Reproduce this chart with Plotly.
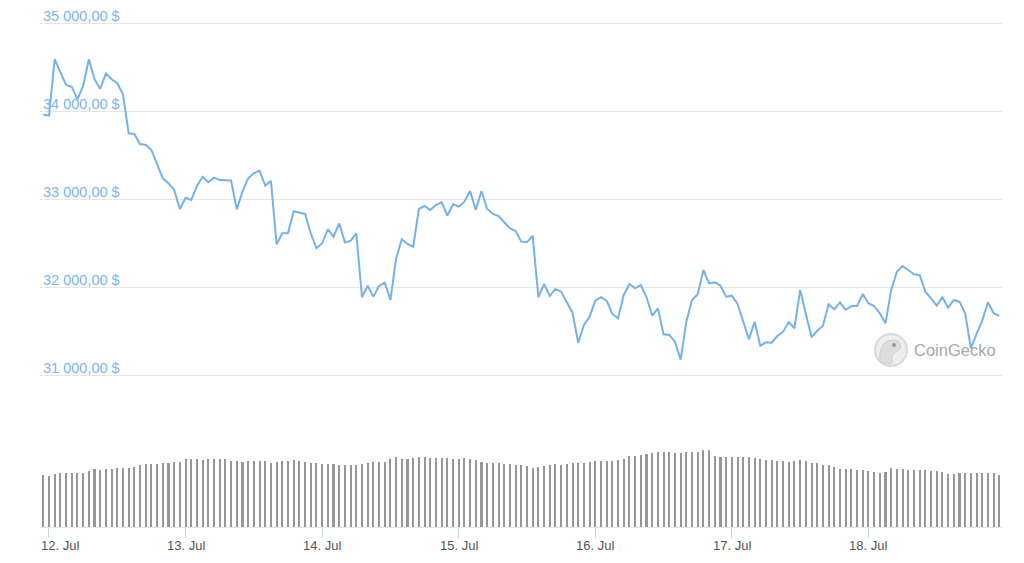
import pandas as pd
import plotly.graph_objects as go

# ---------------- data ----------------
start_time = "2021-07-11 23:00"
n_points = 169

price_usd = [
    33960, 33950, 34589, 34448, 34297, 34278, 34135, 34286, 34589, 34362,
    34252, 34430, 34362, 34317, 34192, 33750, 33742, 33629, 33618, 33561,
    33410, 33240, 33184, 33108, 32889, 33020, 32994, 33153, 33258, 33195,
    33247, 33220, 33217, 33213, 32889, 33088, 33240, 33297, 33327, 33157,
    33210, 32492, 32617, 32617, 32867, 32848, 32836, 32617, 32447, 32504,
    32662, 32578, 32730, 32515, 32530, 32617, 31892, 32023, 31899, 32020,
    32057, 31861, 32334, 32549, 32496, 32465, 32892, 32926, 32881, 32938,
    32968, 32816, 32949, 32919, 32975, 33096, 32881, 33096, 32892, 32836,
    32813, 32742, 32674, 32643, 32522, 32515, 32590, 31892, 32042, 31907,
    31986, 31955, 31842, 31717, 31377, 31578, 31672, 31853, 31892, 31853,
    31703, 31654, 31918, 32042, 31994, 32031, 31892, 31683, 31767, 31473,
    31465, 31389, 31185, 31615, 31861, 31926, 32201, 32050, 32062, 32023,
    31899, 31910, 31816, 31615, 31416, 31615, 31343, 31382, 31377, 31453,
    31502, 31609, 31541, 31975, 31691, 31439, 31513, 31570, 31812, 31756,
    31835, 31748, 31793, 31793, 31929, 31824, 31793, 31710, 31597, 31975,
    32182, 32246, 32201, 32152, 32144, 31955, 31880, 31797, 31892, 31774,
    31861, 31842, 31710, 31314, 31476, 31627, 31835, 31710, 31683,
]

volume_bn = [
    20.8, 20.4, 21.2, 21.7, 21.7, 21.7, 21.5, 21.7, 22.5, 23.1,
    22.8, 23.1, 23.2, 23.5, 23.7, 23.7, 24.1, 24.7, 25.1, 25.1,
    25.1, 25.5, 25.8, 26.0, 26.0, 27.1, 27.3, 27.1, 26.7, 27.1,
    27.1, 27.3, 27.1, 26.6, 26.4, 26.0, 26.4, 26.4, 26.4, 26.4,
    25.5, 26.0, 26.4, 26.4, 27.0, 26.4, 26.0, 25.8, 25.5, 25.3,
    25.3, 25.3, 24.9, 24.9, 24.7, 24.9, 25.1, 25.5, 26.0, 26.0,
    26.0, 27.1, 27.9, 27.3, 27.1, 27.5, 27.9, 27.9, 27.5, 27.5,
    27.5, 27.5, 27.1, 27.1, 27.5, 27.1, 26.9, 26.0, 25.8, 25.5,
    25.5, 25.1, 25.1, 24.7, 24.7, 24.5, 23.7, 24.1, 24.5, 24.7,
    25.1, 24.7, 25.1, 25.5, 25.5, 25.8, 26.0, 26.4, 26.4, 26.4,
    26.4, 26.9, 27.1, 28.4, 28.4, 28.8, 29.2, 29.5, 29.9, 29.9,
    29.9, 29.5, 29.5, 29.9, 29.9, 29.9, 30.8, 30.8, 28.6, 28.1,
    27.9, 27.9, 27.9, 27.9, 27.9, 27.5, 27.1, 26.8, 26.8, 26.5,
    26.5, 26.1, 26.5, 26.8, 26.5, 25.7, 25.5, 24.8, 24.7, 24.1,
    23.2, 23.2, 23.1, 22.8, 22.8, 22.5, 22.1, 21.7, 22.0, 23.5,
    23.1, 23.1, 22.8, 22.8, 22.7, 22.7, 22.4, 22.3, 22.0, 21.1,
    21.1, 21.5, 21.7, 21.5, 21.5, 21.5, 21.5, 21.5, 20.8,
]

price_ticks = [31000, 32000, 33000, 34000, 35000]
price_tick_labels = ["31 000,00 $", "32 000,00 $", "33 000,00 $", "34 000,00 $", "35 000,00 $"]
day_ticks = ["2021-07-12", "2021-07-13", "2021-07-14", "2021-07-15",
             "2021-07-16", "2021-07-17", "2021-07-18"]
day_labels = ["12. Jul", "13. Jul", "14. Jul", "15. Jul", "16. Jul", "17. Jul", "18. Jul"]

times = pd.date_range(start_time, periods=n_points, freq="h")

# ---------------- layout helpers (pixel geometry) ----------------
W, H = 1024, 563
ML, MR, MT, MB = 40, 22, 5, 36
PW = W - ML - MR
PH = H - MT - MB


def xp(px):
    return (px - ML) / PW


def yp(py):
    return (H - MB - py) / PH


FONT = "Liberation Sans, Arial, Helvetica, sans-serif"
LINE_COLOR = "#74b2ea"
PRICE_LABEL_COLOR = "#7cb5ec"
DATE_LABEL_COLOR = "#555555"

fig = go.Figure()

fig.add_trace(go.Scatter(
    x=times, y=price_usd, mode="lines",
    line=dict(color=LINE_COLOR, width=2),
    xaxis="x", yaxis="y", hoverinfo="skip", showlegend=False,
))

fig.add_trace(go.Bar(
    x=times, y=volume_bn,
    marker=dict(color="#979797", line=dict(width=0)),
    width=1_300_000,
    xaxis="x2", yaxis="y2", hoverinfo="skip", showlegend=False,
))

x_range = ["2021-07-11 22:25:12", "2021-07-18 23:28:12"]

fig.update_layout(
    width=W, height=H,
    margin=dict(l=ML, r=MR, t=MT, b=MB, autoexpand=False),
    paper_bgcolor="white", plot_bgcolor="white",
    font=dict(family=FONT),
    showlegend=False,
    bargap=0,
    xaxis=dict(
        domain=[0, 1], anchor="y", matches="x2", range=x_range, type="date",
        showgrid=False, zeroline=False, showticklabels=False, ticks="",
        showline=False, automargin=False,
    ),
    yaxis=dict(
        domain=[yp(384.8), yp(8.0)], anchor="x", range=[30900, 35170],
        tickvals=price_ticks, showticklabels=False, ticks="",
        showgrid=True, gridcolor="#e6e6e6", gridwidth=1,
        zeroline=False, showline=False, automargin=False,
    ),
    xaxis2=dict(
        domain=[0, 1], anchor="y2", range=x_range, type="date",
        tickvals=day_ticks, showticklabels=False,
        ticks="outside", ticklen=10, tickwidth=1, tickcolor="#ccd6eb",
        showgrid=False, zeroline=False,
        showline=True, linecolor="#e3e8f2", linewidth=1,
        automargin=False,
    ),
    yaxis2=dict(
        domain=[0, yp(437)], anchor="x2", range=[0, 36],
        visible=False, showgrid=False, zeroline=False,
    ),
)

# price axis labels: inside the plot, just above each grid line
for val, txt in zip(price_ticks, price_tick_labels):
    fig.add_annotation(text=txt, xref="paper", yref="y", x=xp(40.7), y=val,
                       xanchor="left", yanchor="bottom", yshift=-2.5,
                       showarrow=False,
                       font=dict(family=FONT, size=14.5, color=PRICE_LABEL_COLOR))

# date axis labels (first one pushed inside the plot like the original)
for i, (d, txt) in enumerate(zip(day_ticks, day_labels)):
    fig.add_annotation(text=txt, xref="x2", yref="paper", x=d, y=yp(535.5),
                       xanchor="center", yanchor="top",
                       xshift=11.5 if i == 0 else 0,
                       showarrow=False,
                       font=dict(family=FONT, size=13, color=DATE_LABEL_COLOR))

# ---------------- CoinGecko watermark ----------------
fig.add_shape(type="circle", xref="paper", yref="paper", layer="below",
              x0=xp(875), x1=xp(907), y0=yp(366), y1=yp(334),
              fillcolor="#eeeeee", line=dict(color="#dadada", width=2))
fig.add_shape(type="path", xref="paper", yref="paper", layer="below",
              path=(f"M {xp(880)},{yp(362)} "
                    f"C {xp(879)},{yp(350)} {xp(882)},{yp(341)} {xp(892)},{yp(340)} "
                    f"C {xp(899)},{yp(340)} {xp(902)},{yp(345)} {xp(900)},{yp(349)} "
                    f"C {xp(897)},{yp(352)} {xp(893)},{yp(352)} {xp(892)},{yp(356)} "
                    f"L {xp(892)},{yp(364)} Z"),
              fillcolor="#dedede", line=dict(color="#d0d0d0", width=1))
fig.add_shape(type="circle", xref="paper", yref="paper", layer="below",
              x0=xp(892), x1=xp(896), y0=yp(347), y1=yp(343),
              fillcolor="#9a9a9a", line=dict(width=0))
fig.add_annotation(text="CoinGecko", xref="paper", yref="paper",
                   x=xp(912), y=yp(350), xanchor="left", yanchor="middle",
                   showarrow=False,
                   font=dict(family="Liberation Sans, Arial, sans-serif",
                             size=16.5, color="#a8a8a8"))

fig.write_html("out.html", config={"displayModeBar": False},
               post_script="document.body.style.margin='0';")
